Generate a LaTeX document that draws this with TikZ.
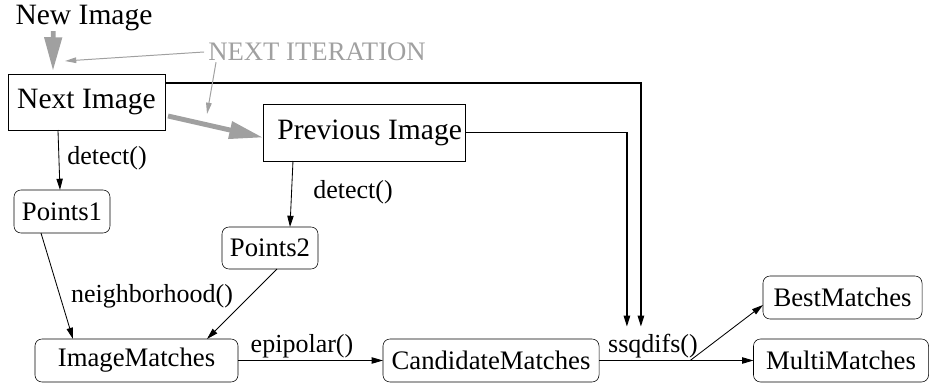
\documentclass[tikz,border=0pt]{standalone}
\usepackage{fontspec}
\setmainfont{Liberation Serif}
\newfontfamily\diagfont{Liberation Serif}
\usetikzlibrary{positioning,calc,arrows.meta}
\definecolor{itergray}{RGB}{160,160,160}
\tikzset{
  imgbox/.style={draw, rectangle, inner sep=0pt, outer sep=0pt, font=\diagfont\fontsize{21}{24}\selectfont},
  ptbox/.style={draw, rounded corners=5pt, inner sep=0pt, outer sep=0pt, minimum height=1.075cm, font=\diagfont\fontsize{19}{22}\selectfont},
  lbl/.style={font=\diagfont\fontsize{18.5}{21}\selectfont, inner sep=0pt},
  flow/.style={-{Triangle[length=8pt,width=4.5pt]}, line width=0.6pt},
  feed/.style={flow, line width=1.3pt},
  bigarr/.style={itergray, line width=3.5pt, -{Triangle[length=#1,width=12pt]}},
  bigarr/.default=16pt,
  thinarr/.style={itergray, line width=0.7pt, -{Triangle[length=8pt,width=4pt]}},
}
\begin{document}
\begin{tikzpicture}[x=0.025cm, y=-0.025cm]
    \useasboundingbox (0,0) rectangle (931,385);
    % Images
    \node[lbl, font=\diagfont\fontsize{21}{24}\selectfont] (newimg) at (84,18) {New Image};
    \node[lbl, itergray, font=\diagfont\fontsize{19}{22}\selectfont] (iter) at (317,52) {NEXT ITERATION};
    \node[imgbox, minimum width=3.925cm, minimum height=1.4cm] (nextimg) at (86.5,102) {Next Image};
    \node[imgbox, minimum width=5.05cm, minimum height=1.425cm] (previmg) at (364,132.5) {\hspace{8pt}Previous Image};

    % Points and matches
    \node[ptbox, minimum width=2.4cm] (pts1) at (62,211.5) {Points1};
    \node[ptbox, minimum width=2.4cm, minimum height=1.05cm] (pts2) at (270,248) {Points2};
    \node[ptbox, minimum width=5.075cm] (immatch) at (136.5,360.5) {ImageMatches\hspace{16pt}};
    \node[ptbox, minimum width=5.4cm] (candmatch) at (491,360.5) {CandidateMatches};
    \node[ptbox, minimum width=3.975cm] (bestmatch) at (842.5,297.5) {BestMatches};
    \node[ptbox, minimum width=4.375cm] (multimatch) at (841,360.5) {MultiMatches};

    % Edge labels
    \node[lbl] (det1) at (107,158) {detect()};
    \node[lbl] (det2) at (353,192) {detect()};
    \node[lbl] (nbh) at (152,296) {neighborhood()};
    \node[lbl] (epi) at (302,346) {epipolar()};
    \node[lbl] (ssq) at (653,346) {ssqdifs()};

    % Flow
    \draw[flow] ($(nextimg.south west)+(50,0)$) -- ($(pts1.north west)+(46,0)$);
    \draw[flow] ($(previmg.south west)+(30,0)$) -- ($(pts2.north west)+(68,0)$);
    \draw[flow] ($(pts1.south west)+(27,0)$) -- ($(immatch.north west)+(38,0)$);
    \draw[flow] ($(pts2.south west)+(55,0)$) -- ($(immatch.north west)+(172,0)$);
    \draw[flow] (immatch.east) -- (candmatch.west);
    \draw[flow] (candmatch.east) -- (multimatch.west);
    \coordinate (split) at ($(candmatch.east)!0.59!(multimatch.west)$);
    \draw[flow] (split) -- ($(bestmatch.south west)+(0,-14)$);

    % Images into ssqdifs
    \draw[feed] ($(nextimg.north east)+(0,9)$) -| ($(ssq.north west)+(33,-7)$);
    \draw[feed] (previmg.east) -| ($(ssq.north west)+(19,-7)$);

    % Next iteration
    \draw[bigarr=24pt] ($(newimg.south west)+(38,0)$) -- ($(nextimg.north west)+(45,-3)$);
    \draw[bigarr=24pt] ($(nextimg.south east)+(3,-14)$) -- ($(previmg.west)+(0,5)$);
    \draw[thinarr] ($(iter.west)+(-4,0)$) -- ($(nextimg.north west)+(57,-13)$);
    \draw[thinarr] ($(iter.south west)+(8,1)$) -- ($(nextimg.north east)+(42,40)$);
\end{tikzpicture}
\end{document}
